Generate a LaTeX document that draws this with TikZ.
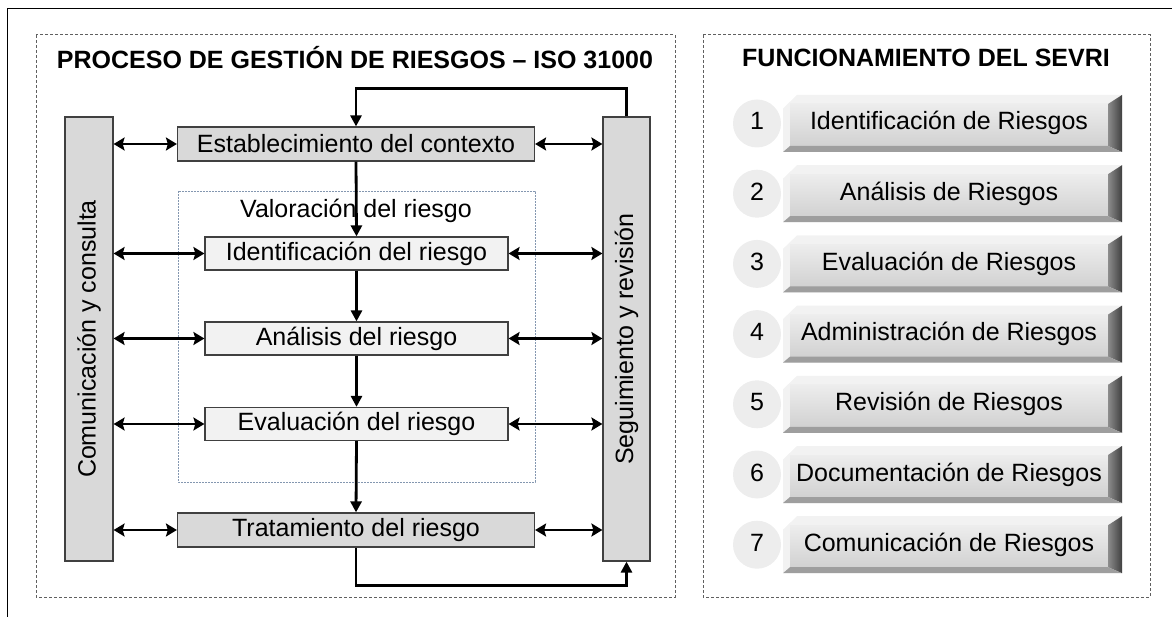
\documentclass[tikz,border=0pt]{standalone}
\usepackage{fontspec}
\setmainfont{Liberation Sans}
\usetikzlibrary{positioning}
\usetikzlibrary{arrows.meta}

\definecolor{boxgray}{HTML}{D9D9D9}
\definecolor{boxlight}{HTML}{F2F2F2}
\definecolor{edgegray}{HTML}{404040}
\definecolor{framegray}{HTML}{606060}
\definecolor{valblue}{HTML}{8497B0}
\definecolor{circgray}{HTML}{EDEDED}

\newcommand{\diagfont}{\fontsize{25}{30}\selectfont}

\tikzset{
  procbox/.style={draw=edgegray,line width=1.2pt,fill=boxgray,minimum height=34pt,
    minimum width=357pt,inner sep=0pt,font=\diagfont},
  subbox/.style={procbox,fill=boxlight,minimum height=33pt,minimum width=303pt},
  sidebar/.style={draw=edgegray,line width=1.2pt,fill=boxgray,minimum width=48pt,
    minimum height=444pt,inner sep=0pt},
  frame/.style={draw=framegray,line width=1pt,dash pattern=on 3pt off 2pt},
  flow/.style={line width=2.8pt,-{Triangle[length=11pt,width=11pt]}},
  dbl/.style={line width=2.8pt,{Stealth[length=11pt,width=13pt,inset=2pt]}-{Stealth[length=11pt,width=13pt,inset=2pt]}},
  numdot/.style={circle,fill=circgray,minimum size=48pt,inner sep=0pt,font=\diagfont,
    text height=18pt,text depth=5pt},
  itemtxt/.style={font=\diagfont,text height=18pt,text depth=5pt,inner sep=0pt},
}

\begin{document}
\begin{tikzpicture}[x=1pt,y=-1pt]
\useasboundingbox (0,0) rectangle (1172,617);

% outer frame
\draw[line width=1pt] (7,617) -- (7,9) -- (1172,9);

% ISO 31000 panel
\draw[frame] (36,35) rectangle (675,597);
\node (isotitle) at (355,58) {\diagfont\bfseries PROCESO DE GESTIÓN DE RIESGOS – ISO 31000};

\node[sidebar] (lbar) at (89,339) {};
\node[rotate=90,font=\diagfont] at (lbar) {Comunicación y consulta};
\node[sidebar,minimum width=47pt] (rbar) at (626.5,339) {};
\node[rotate=90,font=\diagfont] at (rbar) {Seguimiento y revisión};

\draw[valblue,line width=0.8pt,dash pattern=on 2pt off 1pt] (178,191) rectangle (535,482);
\node[font=\diagfont] (valtxt) at (356,211) {Valoración del riesgo};

\node[procbox] (ctx) at (356,144) {Establecimiento del contexto};
\node[subbox] (ident) at (356.5,253.5) {Identificación del riesgo};
\node[subbox] (anal) at (356.5,338.5) {Análisis del riesgo};
\node[subbox] (evalr) at (356.5,424) {Evaluación del riesgo};
\node[procbox] (trat) at (356,530) {Tratamiento del riesgo};

% main flow
\draw[flow] (ctx.south) -- (ident.north);
\draw[flow] (ident.south) -- (anal.north);
\draw[flow] (anal.south) -- (evalr.north);
\draw[flow] (evalr.south) -- (trat.north);
\draw[flow] (rbar.north) -- ++(0,-28) -| (ctx.north);
\draw[flow] (trat.south) -- ++(0,38) -| (rbar.south);

% communication / monitoring links
\draw[dbl] (lbar.east |- ctx) -- (ctx.west);
\draw[dbl] (ctx.east) -- (rbar.west |- ctx);
\draw[dbl] (lbar.east |- ident) -- (ident.west);
\draw[dbl] (ident.east) -- (rbar.west |- ident);
\draw[dbl] (lbar.east |- anal) -- (anal.west);
\draw[dbl] (anal.east) -- (rbar.west |- anal);
\draw[dbl] (lbar.east |- evalr) -- (evalr.west);
\draw[dbl] (evalr.east) -- (rbar.west |- evalr);
\draw[dbl] (lbar.east |- trat) -- (trat.west);
\draw[dbl] (trat.east) -- (rbar.west |- trat);

% SEVRI panel
\draw[frame] (703,35) rectangle (1150,597);
\node (sevtitle) at (926,58) {\diagfont\bfseries FUNCIONAMIENTO DEL SEVRI};

\foreach \n/\txt in {1/Identificación de Riesgos, 2/Análisis de Riesgos,
    3/Evaluación de Riesgos, 4/Administración de Riesgos, 5/Revisión de Riesgos,
    6/Documentación de Riesgos, 7/Comunicación de Riesgos} {
  \pgfmathsetmacro\yc{123.5+70.2*(\n-1)}
  \node[numdot] (num\n) at (757,\yc) {\n};
  \begin{scope}[shift={(0,\yc)}]
    \fill[white!95!black] (783,-15) -- (797,-28.5) -- (1122,-28.5) -- (1122,28.5) -- (783,28.5) -- cycle;
    \shade[top color=white!93!black,bottom color=white!82!black] (790,-19.5) rectangle (1108,22.5);
    \shade[left color=black!45,right color=black!75] (1108,-19.5) -- (1122,-28.5) -- (1122,28.5) -- (1108,22.5) -- cycle;
    \fill[black!38] (783,28.5) -- (790,22.5) -- (1108,22.5) -- (1122,28.5) -- cycle;
  \end{scope}
  \node[itemtxt] (item\n) at (949,\yc) {\txt};
}
\end{tikzpicture}
\end{document}
